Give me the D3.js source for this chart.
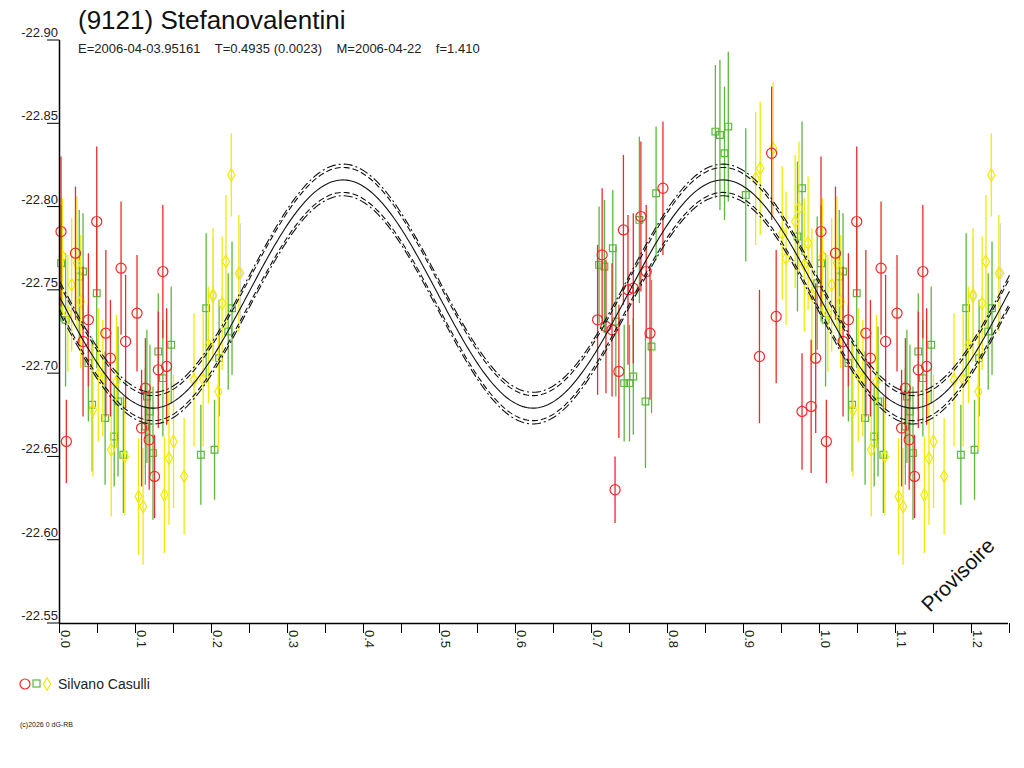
<!DOCTYPE html>
<html>
<head>
<meta charset="utf-8">
<style>
body { margin:0; background:#fff; }
text { font-family: "Liberation Sans", Arial, sans-serif; }
</style>
</head>
<body>
<script src="https://cdn.jsdelivr.net/npm/d3@7"></script>
<script>
// DATA - observations [phase, magnitude, error]
var redObs = [
  [0.002,-22.785,0.045],[0.021,-22.772,0.040],[0.049,-22.791,0.045],[0.038,-22.732,0.040],
  [0.031,-22.719,0.045],[0.061,-22.724,0.050],[0.067,-22.709,0.035],[0.081,-22.763,0.040],
  [0.087,-22.719,0.040],[0.102,-22.736,0.035],[0.136,-22.761,0.040],[0.113,-22.691,0.030],
  [0.108,-22.667,0.035],[0.118,-22.660,0.030],[0.130,-22.702,0.035],[0.141,-22.704,0.035],
  [0.009,-22.659,0.025],[0.125,-22.638,0.025],
  [0.714,-22.771,0.040],[0.708,-22.732,0.045],[0.719,-22.728,0.040],[0.727,-22.726,0.040],
  [0.742,-22.786,0.045],[0.736,-22.701,0.040],[0.731,-22.630,0.020],[0.748,-22.750,0.045],
  [0.755,-22.751,0.045],[0.765,-22.794,0.045],[0.794,-22.811,0.040],[0.772,-22.761,0.040],
  [0.777,-22.724,0.040],[0.937,-22.832,0.040],[0.943,-22.734,0.040],[0.921,-22.710,0.040],
  [0.995,-22.709,0.045],[0.977,-22.677,0.035],[0.989,-22.680,0.040]
];
var greenObs = [
  [0.002,-22.766,0.035],[0.031,-22.761,0.035],[0.026,-22.758,0.040],[0.049,-22.748,0.045],
  [0.008,-22.732,0.040],[0.038,-22.706,0.035],[0.043,-22.681,0.040],[0.060,-22.673,0.040],
  [0.077,-22.683,0.045],[0.072,-22.662,0.030],[0.084,-22.651,0.035],[0.115,-22.686,0.040],
  [0.119,-22.677,0.040],[0.113,-22.668,0.035],[0.123,-22.652,0.040],[0.130,-22.713,0.035],
  [0.136,-22.697,0.035],[0.147,-22.717,0.035],[0.193,-22.739,0.045],[0.210,-22.709,0.035],
  [0.186,-22.651,0.030],[0.204,-22.654,0.030],[0.222,-22.725,0.035],[0.227,-22.739,0.040],
  [0.710,-22.765,0.035],[0.717,-22.764,0.040],[0.732,-22.731,0.045],[0.728,-22.775,0.035],
  [0.743,-22.694,0.035],[0.750,-22.694,0.035],[0.755,-22.698,0.035],[0.763,-22.792,0.050],
  [0.785,-22.808,0.040],[0.779,-22.716,0.040],[0.771,-22.683,0.040],[0.863,-22.845,0.040],
  [0.869,-22.843,0.045],[0.880,-22.848,0.045],[0.875,-22.832,0.040],[0.903,-22.807,0.040],
  [0.977,-22.811,0.040],[0.971,-22.782,0.045],[0.997,-22.754,0.040]
];
var yellowObs = [
  [0.004,-22.770,0.035],[0.023,-22.766,0.040],[0.016,-22.753,0.040],[0.028,-22.743,0.040],
  [0.011,-22.736,0.035],[0.051,-22.699,0.040],[0.057,-22.697,0.035],[0.044,-22.678,0.040],
  [0.075,-22.695,0.040],[0.068,-22.654,0.040],[0.086,-22.650,0.035],[0.150,-22.659,0.040],
  [0.144,-22.649,0.040],[0.177,-22.696,0.040],[0.189,-22.696,0.040],[0.196,-22.717,0.035],
  [0.202,-22.747,0.040],[0.209,-22.689,0.035],[0.214,-22.742,0.040],[0.219,-22.767,0.040],
  [0.236,-22.760,0.035],[0.226,-22.819,0.025],[0.104,-22.626,0.035],[0.110,-22.620,0.035],
  [0.138,-22.627,0.035],[0.164,-22.638,0.035],
  [0.916,-22.817,0.040],[0.922,-22.823,0.040],[0.939,-22.835,0.040],[0.973,-22.799,0.040],
  [0.968,-22.791,0.040],[0.951,-22.784,0.040],[0.956,-22.769,0.040],[0.985,-22.778,0.040],
  [0.980,-22.765,0.040],[0.990,-22.747,0.040]
];
var grayObs = [[0.202,-22.746,0.035],[0.238,-22.760,0.030]];

// DATA - fit (double wave): mean, amplitude, phase of maximum, band widths
var fitMean = -22.7475, fitAmp = 0.0685, fitMaxPhase = 0.373;
var bandInner = 0.0075, bandOuter = 0.0095;

// DATA - axes
var yTicks = [-22.90,-22.85,-22.80,-22.75,-22.70,-22.65,-22.60,-22.55];
var xTicks = [0.0,0.1,0.2,0.3,0.4,0.5,0.6,0.7,0.8,0.9,1.0,1.1,1.2];
var xMinor = [0.05,0.15,0.25,0.35,0.45,0.55,0.65,0.75,0.85,0.95,1.05,1.15,1.25];

var W = 1024, H = 768;
var svg = d3.select("body").append("svg").attr("width",W).attr("height",H);

var x = d3.scaleLinear().domain([0,1.2]).range([59.5,971.5]);
var y = d3.scaleLinear().domain([-22.90,-22.55]).range([40,623]);

// repeat phases < 0.25 after 1.0
function wrap(arr){
  var out = arr.slice();
  arr.forEach(function(d){ if(d[0] < 0.25) out.push([d[0]+1,d[1],d[2]]); });
  return out;
}

var plot = svg.append("g");
function drawSeries(arr, color, shape){
  var data = wrap(arr);
  plot.selectAll(null).data(data).enter().append("line")
    .attr("x1",function(d){return x(d[0])}).attr("x2",function(d){return x(d[0])})
    .attr("y1",function(d){return y(d[1]-d[2])}).attr("y2",function(d){return y(d[1]+d[2])})
    .style("stroke",color).style("stroke-width",1.3);
  var sym = d3.symbol().type(shape).size(shape===d3.symbolDiamond ? 45 : (shape===d3.symbolSquare ? 45 : 80));
  plot.selectAll(null).data(data).enter().append("path")
    .attr("d",sym)
    .attr("transform",function(d){return "translate("+x(d[0])+","+y(d[1])+")"})
    .style("fill","none").style("stroke",color).style("stroke-width",1.2);
}
drawSeries(grayObs,"#d8d8d8",d3.symbolDiamond);
drawSeries(greenObs,"#5cb83c",d3.symbolSquare);
drawSeries(yellowObs,"#f2ea00",d3.symbolDiamond);
drawSeries(redObs,"#ee2a2a",d3.symbolCircle);

// fit curve and bands
var phases = d3.range(0,1.2501,0.0025);
function fit(p){ return fitMean - fitAmp*Math.cos(4*Math.PI*(p-fitMaxPhase)); }
var line = d3.line().x(function(p){return x(p)});
[[0,null],[bandInner,"6,3"],[-bandInner,"6,3"],[bandOuter,"9,3,2,3"],[-bandOuter,"9,3,2,3"]].forEach(function(b){
  svg.append("path").datum(phases)
    .attr("d",line.y(function(p){return y(fit(p)+b[0])}))
    .style("fill","none").style("stroke","#111").style("stroke-width",1.1)
    .style("stroke-dasharray",b[1]);
});

// axes
svg.append("line").attr("x1",59.5).attr("x2",59.5).attr("y1",40).attr("y2",623).style("stroke","#000").style("stroke-width",1.5);
svg.append("line").attr("x1",59.5).attr("x2",1008).attr("y1",623.5).attr("y2",623.5).style("stroke","#000").style("stroke-width",1.5);
yTicks.forEach(function(t){
  svg.append("line").attr("x1",47).attr("x2",59.5).attr("y1",y(t)).attr("y2",y(t)).style("stroke","#000");
  svg.append("text").attr("x",58).attr("y",y(t)-3).attr("text-anchor","end")
    .style("font-size","13px").style("fill","#222").text(t.toFixed(2));
});
xTicks.concat(xMinor).forEach(function(t){
  svg.append("line").attr("x1",x(t)).attr("x2",x(t)).attr("y1",623).attr("y2",633).style("stroke","#000");
});
xTicks.forEach(function(t){
  svg.append("text").attr("transform","translate("+(x(t)+1)+",630) rotate(90)")
    .style("font-size","13px").style("fill","#222").text(t.toFixed(1));
});

// titles
svg.append("text").attr("x",78).attr("y",29).style("font-size","26px").style("fill","#111").text("(9121) Stefanovalentini");
svg.append("text").attr("x",78).attr("y",53).style("font-size","13px").style("fill","#222").attr("xml:space","preserve")
  .text("E=2006-04-03.95161    T=0.4935 (0.0023)    M=2006-04-22    f=1.410");
svg.append("text").attr("transform","translate(930,613) rotate(-45)")
  .style("font-size","21px").style("fill","#111").text("Provisoire");

// legend
svg.append("circle").attr("cx",25).attr("cy",684).attr("r",5).style("fill","none").style("stroke","#ee2a2a").style("stroke-width",1.2);
svg.append("rect").attr("x",33).attr("y",680).attr("width",7).attr("height",7).style("fill","none").style("stroke","#5cb83c").style("stroke-width",1.2);
svg.append("path").attr("d",d3.symbol().type(d3.symbolDiamond).size(45)).attr("transform","translate(47,684)")
  .style("fill","none").style("stroke","#f2ea00").style("stroke-width",1.2);
svg.append("text").attr("x",58).attr("y",689).style("font-size","14px").style("fill","#222").text("Silvano Casulli");
svg.append("text").attr("x",20).attr("y",727).style("font-size","7px").style("fill","#222").text("(c)2026 0 dG-RB");
</script>
</body>
</html>
